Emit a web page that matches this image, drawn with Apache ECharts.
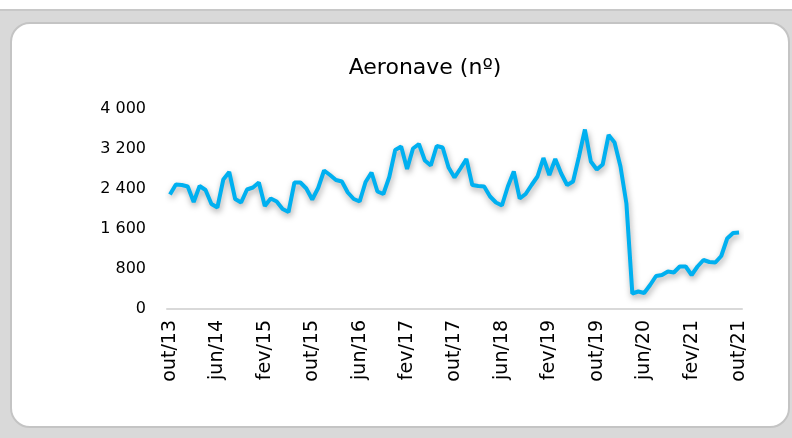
<!DOCTYPE html>
<html>
<head>
<meta charset="utf-8">
<script src="https://cdn.jsdelivr.net/npm/echarts@6/dist/echarts.min.js"></script>
<style>
html,body{margin:0;padding:0;width:792px;height:438px;background:#fff;overflow:hidden;}
#bg{position:absolute;left:0;top:9px;width:792px;height:429px;background:#d9d9d9;border-top:2px solid #c8c8c8;box-sizing:border-box;}
#card{position:absolute;left:10px;top:22px;width:780px;height:406px;background:#fff;border-radius:20px;border:2px solid #c4c4c4;box-sizing:border-box;}
#chart{position:absolute;left:0;top:0;width:792px;height:438px;}
</style>
</head>
<body>
<div id="bg"></div>
<div id="card"></div>
<div id="chart"></div>
<script>
var title = 'Aeronave (nº)';
var monthNames = ['jan','fev','mar','abr','mai','jun','jul','ago','set','out','nov','dez'];
var startYear = 2013, startMonth = 9; // out/13
var monthCount = 97;
var categories = [];
for (var k = 0; k < monthCount; k++) {
  var m = (startMonth + k) % 12;
  var y = startYear + Math.floor((startMonth + k) / 12);
  categories.push(monthNames[m] + '/' + String(y).slice(2));
}
var values = [
  2290, 2490, 2480, 2450, 2140, 2460, 2380, 2100, 2030, 2590,
  2740, 2200, 2130, 2390, 2430, 2530, 2060, 2210, 2150, 2000,
  1940, 2530, 2530, 2410, 2190, 2420, 2770, 2680, 2580, 2550,
  2330, 2200, 2150, 2540, 2730, 2350, 2300, 2640, 3180, 3250,
  2800, 3210, 3300, 2970, 2870, 3260, 3230, 2830, 2630, 2810,
  3000, 2480, 2460, 2450, 2250, 2130, 2070, 2450, 2750, 2210,
  2300, 2480, 2650, 3020, 2680, 3000, 2710, 2480, 2550, 3050,
  3590, 2950, 2790, 2890, 3480, 3330, 2850, 2110, 310, 350,
  320, 480, 660, 680, 750, 730, 850, 850, 680, 850,
  980, 940, 930, 1060, 1410, 1520, 1530
];
var yTicks = [0, 800, 1600, 2400, 3200, 4000];

var fontFam = '"DejaVu Sans", sans-serif';
var chart = echarts.init(document.getElementById('chart'), null, {renderer: 'canvas'});
chart.setOption({
  animation: false,
  backgroundColor: 'transparent',
  title: {
    text: title,
    left: 420, top: 52, textAlign: 'center',
    textStyle: {fontFamily: fontFam, fontSize: 22, fontWeight: 'normal', color: '#000'}
  },
  grid: {left: 167, right: 50, top: 109, bottom: 129, containLabel: false},
  xAxis: {
    type: 'category',
    data: categories,
    boundaryGap: true,
    axisLine: {lineStyle: {color: '#d9d9d9', width: 2}},
    axisTick: {show: false},
    axisLabel: {
      interval: 7, rotate: 90, margin: 11,
      fontFamily: fontFam, fontSize: 19, color: '#000'
    }
  },
  yAxis: {
    type: 'value',
    min: yTicks[0], max: yTicks[yTicks.length - 1], interval: 800,
    splitLine: {show: false},
    axisLine: {show: false},
    axisTick: {show: false},
    axisLabel: {
      margin: 21, fontFamily: fontFam, fontSize: 16, color: '#000',
      formatter: function (v) { return String(v).replace(/\B(?=(\d{3})+(?!\d))/g, ' '); }
    }
  },
  series: [{
    type: 'line',
    data: values,
    showSymbol: false,
    smooth: false,
    lineStyle: {
      color: '#00B0F0', width: 4,
      shadowColor: 'rgba(0,0,0,0.35)', shadowBlur: 6, shadowOffsetY: 3, shadowOffsetX: 1
    },
    itemStyle: {color: '#00B0F0'}
  }]
});
</script>
</body>
</html>
